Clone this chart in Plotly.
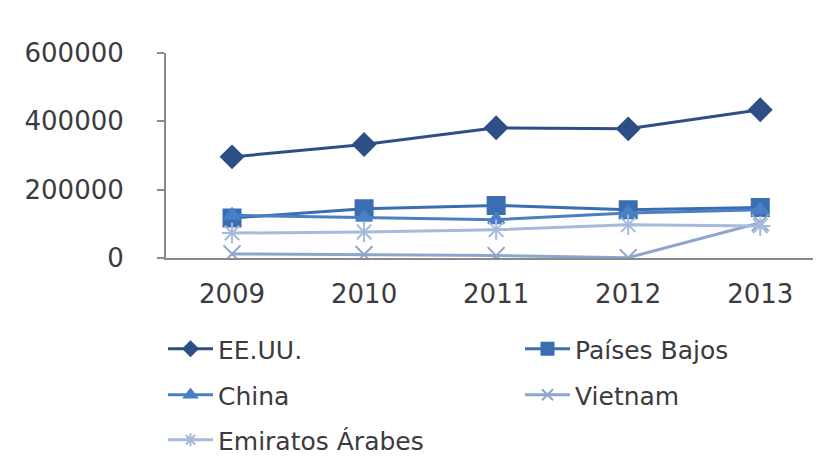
import plotly.graph_objects as go

years = ["2009", "2010", "2011", "2012", "2013"]
eeuu = [296000, 332000, 381000, 378000, 434000]
paises_bajos = [117000, 144000, 154000, 141000, 148000]
china = [125000, 119000, 112000, 132000, 141000]
vietnam = [12000, 10000, 7000, 1000, 103000]
emiratos = [73000, 76000, 83000, 97000, 94000]

series = [
    ("EE.UU.", eeuu, "#2e4f86", "diamond", 17, 11, "legend"),
    ("Países Bajos", paises_bajos, "#3b6db2", "square", 17, 12, "legend2"),
    ("China", china, "#4a7fc4", "triangle-up", 14, 11, "legend3"),
    ("Vietnam", vietnam, "#8ea6cc", "x-thin-open", 17, 11, "legend4"),
    ("Emiratos Árabes", emiratos, "#a7badb", "asterisk-open", 17, 11, "legend5"),
]

fig = go.Figure()
for name, vals, col, sym, size, lsize, leg in series:
    fig.add_trace(go.Scatter(
        x=years, y=vals, name=name, mode="lines+markers", showlegend=False,
        line=dict(color=col, width=3),
        marker=dict(symbol=sym, size=size, color=col, line=dict(color=col, width=2)),
    ))
    # legend entry with the smaller marker of the reference legend
    fig.add_trace(go.Scatter(
        x=[None], y=[None], name=name, mode="lines+markers", legend=leg,
        line=dict(color=col, width=3),
        marker=dict(symbol=sym, size=lsize, color=col, line=dict(color=col, width=2)),
    ))

W, H, OFF = 813, 451, 8
font = dict(family="DejaVu Sans", size=26, color="#3c3a40")
legfont = dict(family="DejaVu Sans", size=25, color="#3c3a40")


def leg(xpx, ypx):
    return dict(xref="container", yref="container",
                x=(xpx - OFF) / W, y=1 - (ypx - OFF) / H,
                xanchor="left", yanchor="middle", font=legfont, itemwidth=45,
                bgcolor="rgba(0,0,0,0)")


fig.update_layout(
    width=W, height=H,
    margin=dict(l=166 - OFF, r=0, t=53 - OFF, b=H - (258 - OFF), autoexpand=False),
    paper_bgcolor="white", plot_bgcolor="white",
    font=font,
    showlegend=True,
    legend=leg(163, 349),
    legend2=leg(520, 349),
    legend3=leg(163, 395),
    legend4=leg(520, 395),
    legend5=leg(163, 440),
    xaxis=dict(range=[-0.5, 4.46], showgrid=False, zeroline=False,
               showline=True, linecolor="#8a8a8a", linewidth=2, automargin=False,
               ticks="", tickfont=font, ticklabelstandoff=12),
    yaxis=dict(range=[0, 600000], tickvals=[0, 200000, 400000, 600000],
               ticktext=["0", "200000", "400000", "600000"], automargin=False,
               showgrid=False, zeroline=False, showline=True,
               linecolor="#8a8a8a", linewidth=2, ticks="outside",
               ticklen=7, tickcolor="#8a8a8a", tickwidth=2,
               tickfont=font, ticklabelstandoff=28),
)

fig.write_html("out.html")
